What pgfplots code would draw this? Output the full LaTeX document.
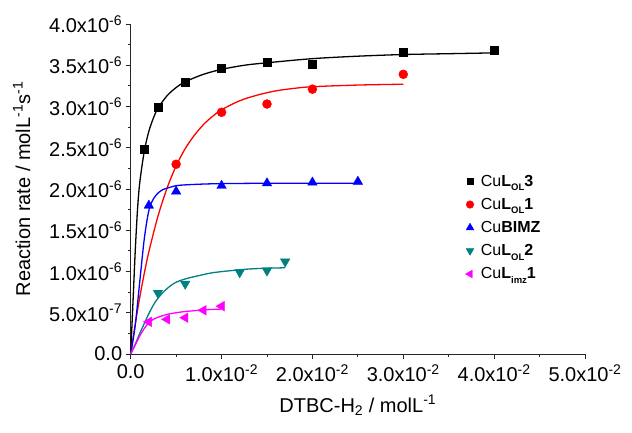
\documentclass[border=0pt]{standalone}
\usepackage{fontspec}
\setmainfont{Liberation Sans}
\usepackage{pgfplots}
\pgfplotsset{compat=1.18}
\definecolor{cteal}{RGB}{0,128,128}
\definecolor{cred}{RGB}{255,0,0}
\definecolor{cblue}{RGB}{0,0,255}
\definecolor{cmag}{RGB}{255,0,255}
\newcommand\lsub[1]{\raisebox{-0.28em}{\fontsize{9.5bp}{9.5bp}\selectfont\bfseries #1}}
\begin{document}
\begin{tikzpicture}
\begin{axis}[
  at={(0,0)}, anchor=origin,
  scale only axis, width=454.3bp, height=330bp,
  xmin=0, xmax=0.05, ymin=0, ymax=4e-6,
  axis lines*=left,
  axis line style={-, line width=0.9pt, black!85},
  clip=false,
  scaled x ticks=false, scaled y ticks=false,
  xtick={0,0.01,0.02,0.03,0.04,0.05},
  xticklabels={0.0, 1.0x10\textsuperscript{-2}, 2.0x10\textsuperscript{-2}, 3.0x10\textsuperscript{-2}, 4.0x10\textsuperscript{-2}, 5.0x10\textsuperscript{-2}},
  minor xtick={0.005,0.015,0.025,0.035,0.045},
  ytick={0,0.5e-6,1e-6,1.5e-6,2e-6,2.5e-6,3e-6,3.5e-6,4e-6},
  yticklabels={0.0, 5.0x10\textsuperscript{-7}, 1.0x10\textsuperscript{-6}, 1.5x10\textsuperscript{-6}, 2.0x10\textsuperscript{-6}, 2.5x10\textsuperscript{-6}, 3.0x10\textsuperscript{-6}, 3.5x10\textsuperscript{-6}, 4.0x10\textsuperscript{-6}},
  minor ytick={0.25e-6,0.75e-6,1.25e-6,1.75e-6,2.25e-6,2.75e-6,3.25e-6,3.75e-6},
  tick align=outside,
  major tick length=5bp, minor tick length=3bp,
  tick style={line width=0.9pt, black!85},
  ticklabel style={font=\fontsize{20bp}{24bp}\selectfont},
  x tick label style={yshift=-2bp},
  label style={font=\fontsize{20bp}{24bp}\selectfont},
  xlabel={DTBC-H\textsubscript{2} / molL\textsuperscript{-1}},
  ylabel={Reaction rate / molL\textsuperscript{-1}s\textsuperscript{-1}},
  x label style={at={(axis description cs:0.5,-0.155)}, anchor=center},
  y label style={at={(axis description cs:-0.24,0.5)}, anchor=center},
  legend style={at={(rel axis cs:0.73,0.555)}, anchor=north west, draw=none, fill=none,
    font=\fontsize{16bp}{18bp}\selectfont, row sep=6.5bp,
    /tikz/every odd column/.append style={column sep=5bp}},
  legend cell align=left,
]
% fitted curves
\addplot[black, line width=1.3pt, smooth, forget plot] coordinates {
(0,0) (0.0001,0.25e-6) (0.0002,0.5e-6) (0.0003,0.75e-6) (0.0005,1.25e-6) (0.00075,1.75e-6)
(0.001,2.08e-6) (0.0015,2.46e-6) (0.002,2.70e-6) (0.0025,2.86e-6) (0.003,2.98e-6) (0.004,3.13e-6)
(0.005,3.23e-6) (0.006,3.30e-6) (0.008,3.39e-6) (0.01,3.45e-6) (0.0125,3.50e-6) (0.015,3.53e-6)
(0.02,3.58e-6) (0.025,3.61e-6) (0.03,3.63e-6) (0.035,3.64e-6) (0.04,3.65e-6)};
\addplot[cred, line width=1.3pt, smooth, forget plot] coordinates {
(0,0) (0.0005,0.36e-6) (0.001,0.69e-6) (0.0015,0.98e-6) (0.002,1.24e-6) (0.003,1.67e-6)
(0.004,2.01e-6) (0.005,2.28e-6) (0.006,2.49e-6) (0.007,2.65e-6) (0.008,2.78e-6) (0.009,2.88e-6)
(0.01,2.96e-6) (0.012,3.07e-6) (0.014,3.14e-6) (0.016,3.19e-6) (0.018,3.22e-6) (0.02,3.24e-6)
(0.025,3.26e-6) (0.03,3.27e-6)};
\addplot[cblue, line width=1.3pt, smooth, forget plot] coordinates {
(0,0) (0.0005,0.35e-6) (0.001,0.88e-6) (0.0015,1.40e-6) (0.002,1.74e-6) (0.0025,1.88e-6)
(0.003,1.95e-6) (0.0035,1.99e-6) (0.004,2.01e-6) (0.005,2.04e-6) (0.006,2.05e-6) (0.008,2.06e-6)
(0.01,2.065e-6) (0.015,2.07e-6) (0.02,2.07e-6) (0.025,2.07e-6)};
\addplot[cteal, line width=1.3pt, smooth, forget plot] coordinates {
(0,0) (0.0005,0.12e-6) (0.001,0.25e-6) (0.0015,0.37e-6) (0.002,0.49e-6) (0.0027,0.63e-6)
(0.0035,0.74e-6) (0.0043,0.82e-6) (0.005,0.87e-6) (0.006,0.91e-6) (0.0075,0.95e-6) (0.009,0.985e-6)
(0.011,1.01e-6) (0.013,1.03e-6) (0.015,1.04e-6) (0.017,1.045e-6)};
\addplot[cmag, line width=1.3pt, smooth, forget plot] coordinates {
(0,0) (0.0005,0.11e-6) (0.001,0.22e-6) (0.0015,0.31e-6) (0.002,0.38e-6) (0.0025,0.42e-6)
(0.003,0.445e-6) (0.004,0.48e-6) (0.005,0.50e-6) (0.006,0.515e-6) (0.007,0.525e-6)
(0.008,0.535e-6) (0.009,0.54e-6) (0.01,0.545e-6)};
% data points
\addplot[only marks, mark=square*, mark size=4bp, black, legend image post style={mark size=3.2bp}] coordinates {
(0.0015,2.48e-6) (0.003,2.99e-6) (0.006,3.30e-6) (0.01,3.46e-6) (0.015,3.54e-6) (0.02,3.51e-6) (0.03,3.66e-6) (0.04,3.68e-6)};
\addlegendentry{Cu\textbf{L\lsub{OL}3}}
\addplot[only marks, mark=*, mark size=4.5bp, cred, legend image post style={mark size=3.8bp}] coordinates {
(0.005,2.30e-6) (0.01,2.93e-6) (0.015,3.03e-6) (0.02,3.21e-6) (0.03,3.39e-6)};
\addlegendentry{Cu\textbf{L\lsub{OL}1}}
\addplot[only marks, mark=triangle*, mark size=5.5bp, cblue, legend image post style={mark size=4.5bp}] coordinates {
(0.002,1.80e-6) (0.005,1.97e-6) (0.01,2.04e-6) (0.015,2.07e-6) (0.02,2.08e-6) (0.025,2.09e-6)};
\addlegendentry{Cu\textbf{BIMZ}}
\addplot[only marks, mark=triangle*, mark size=5.5bp, cteal, mark options={rotate=180}, legend image post style={mark size=4.5bp}] coordinates {
(0.003,0.74e-6) (0.006,0.85e-6) (0.012,0.99e-6) (0.015,1.01e-6) (0.017,1.12e-6)};
\addlegendentry{Cu\textbf{L\lsub{OL}2}}
\addplot[only marks, mark=triangle*, mark size=5.5bp, cmag, mark options={rotate=90}, legend image post style={mark size=4.5bp}] coordinates {
(0.002,0.39e-6) (0.004,0.42e-6) (0.006,0.44e-6) (0.008,0.53e-6) (0.01,0.58e-6)};
\addlegendentry{Cu\textbf{L\lsub{imz}1}}
\end{axis}
\pgfresetboundingbox
\path (-130.7bp,-79bp) rectangle (501.3bp,354bp);
\end{tikzpicture}
\end{document}
